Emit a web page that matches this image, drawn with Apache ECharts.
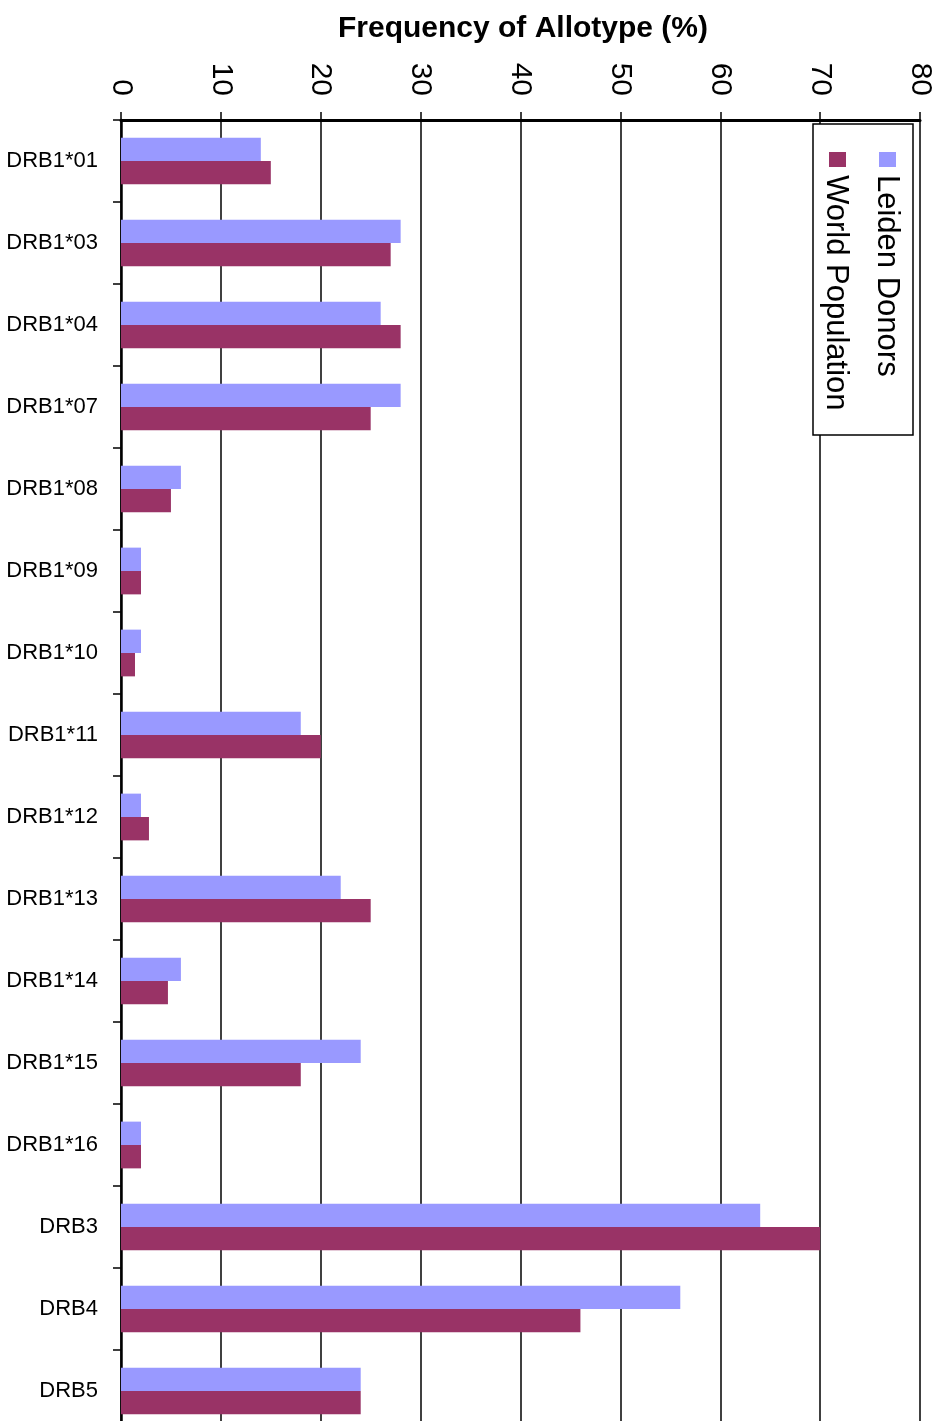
<!DOCTYPE html>
<html>
<head>
<meta charset="utf-8">
<script src="https://cdn.jsdelivr.net/npm/echarts@6/dist/echarts.min.js"></script>
<style>
html,body{margin:0;padding:0;background:#fff;}
#wrap{width:941px;height:1421px;overflow:hidden;}
#chart{width:941px;height:1421px;}
</style>
</head>
<body>
<div id="wrap"><div id="chart"></div></div>
<script>
const categories = ['DRB1*01','DRB1*03','DRB1*04','DRB1*07','DRB1*08','DRB1*09','DRB1*10','DRB1*11','DRB1*12','DRB1*13','DRB1*14','DRB1*15','DRB1*16','DRB3','DRB4','DRB5'];
const leidenDonors = [14,28,26,28,6,2,2,18,2,22,6,24,2,64,56,24];
const worldPopulation = [15,27,28,25,5,2,1.4,20,2.8,25,4.7,18,2,70,46,24];
const seriesNames = ['Leiden Donors','World Population'];
const axisTitle = 'Frequency of Allotype (%)';

const FONT = '"Liberation Sans", Arial, sans-serif';
const chart = echarts.init(document.getElementById('chart'), null, {renderer:'canvas'});

const option = {
  backgroundColor: '#ffffff',
  animation: false,
  title: {
    text: axisTitle,
    left: 518, textAlign: 'center', top: 9,
    textStyle: {fontFamily: FONT, fontSize: 30, fontWeight: 'bold', color: '#000'}
  },
  grid: {left: 121, top: 120, width: 799, height: 1312, containLabel: false, outerBoundsMode: 'none'},
  xAxis: {
    type: 'value', position: 'top', min: 0, max: 80, interval: 10,
    axisLine: {show: true, lineStyle: {color: '#000', width: 3}},
    axisTick: {show: true, length: 8, lineStyle: {color: '#000', width: 1.5}},
    splitLine: {show: true, lineStyle: {color: '#000', width: 1.5}},
    axisLabel: {rotate: 90, margin: 24, fontSize: 30, fontFamily: FONT, color: '#000'}
  },
  yAxis: {
    type: 'category', inverse: true, data: categories,
    axisLine: {show: true, lineStyle: {color: '#000', width: 2.5}},
    axisTick: {show: true, length: 8, alignWithLabel: false, lineStyle: {color: '#000', width: 1.5}},
    axisLabel: {margin: 23, fontSize: 22, fontFamily: FONT, color: '#000', padding: [7, 0, 0, 0]},
    splitLine: {show: false}
  },
  series: [
    {name: seriesNames[0], type: 'bar', data: leidenDonors, barGap: '0%', barCategoryGap: '43%',
     itemStyle: {color: '#9999FF'}},
    {name: seriesNames[1], type: 'bar', data: worldPopulation, barGap: '0%', barCategoryGap: '43%',
     itemStyle: {color: '#993366'}}
  ],
  graphic: [
    {type: 'rect', shape: {x: 813, y: 124, width: 100, height: 311},
     style: {fill: '#fff', stroke: '#000', lineWidth: 1.5}, z: 100},
    {type: 'rect', shape: {x: 879, y: 152, width: 17, height: 15},
     style: {fill: '#9999FF'}, z: 101},
    {type: 'rect', shape: {x: 829, y: 152, width: 17, height: 15},
     style: {fill: '#993366'}, z: 101},
    {type: 'text', x: 887, y: 175, rotation: -Math.PI/2, z: 101,
     style: {text: seriesNames[0], font: '31px ' + FONT, fill: '#000', align: 'left', verticalAlign: 'middle'}},
    {type: 'text', x: 836, y: 175, rotation: -Math.PI/2, z: 101,
     style: {text: seriesNames[1], font: '31px ' + FONT, fill: '#000', align: 'left', verticalAlign: 'middle'}}
  ]
};
chart.setOption(option);
</script>
</body>
</html>
